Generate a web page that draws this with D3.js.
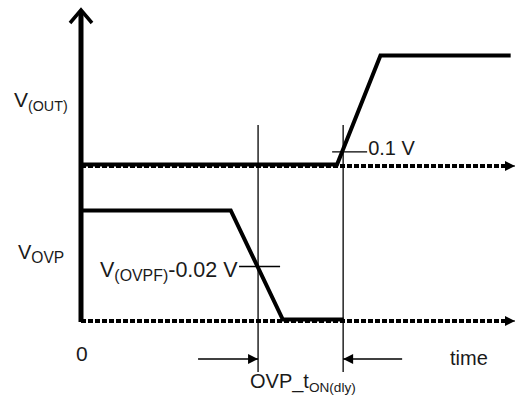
<!DOCTYPE html>
<meta charset="utf-8">
<style>
body { margin: 0; background: #fff; }
text { font-family: "Liberation Sans", Arial, sans-serif; fill: #1a1a1a; }
.wave { fill: none; stroke: #000; stroke-width: 4px; stroke-linejoin: miter; }
.base { stroke: #000; stroke-width: 4px; stroke-dasharray: 5,2; }
.marker { stroke: #000; stroke-width: 1.3px; }
</style>
<svg width="522" height="401"></svg>
<script src="https://cdn.jsdelivr.net/npm/d3@7"></script>
<script>

// waveform break points (time in % of the time axis, level 0 = low, 1 = high)
var outTimes = [0, 59, 69, 99]
var outLevels = [0, 0, 1, 1]
var ovpTimes = [0, 34.5, 46.5, 60.5]
var ovpLevels = [1, 1, 0, 0]

// delay markers and thresholds
var markerTimes = [40.8, 60.4]
var outThreshold = 0.13   // "0.1 V"
var ovpThreshold = 0.5    // "V(OVPF)-0.02 V"

var svg = d3.select("svg")

var x = d3.scaleLinear().domain([0, 100]).range([81, 515])
var yOut = d3.scaleLinear().domain([0, 1]).range([166, 57])
var yOvp = d3.scaleLinear().domain([0, 1]).range([321, 212])

var defs = svg.append("defs")
defs.append("marker")
    .attr("id", "tri")
    .attr("viewBox", "0 0 10 10")
    .attr("refX", 10).attr("refY", 5)
    .attr("markerWidth", 12).attr("markerHeight", 10)
    .attr("markerUnits", "userSpaceOnUse")
    .attr("orient", "auto")
  .append("path")
    .attr("d", "M0,0L10,5L0,10Z")
    .attr("fill", "#000")

// dashed baselines with arrows
;[yOut(0), yOvp(0)].forEach(function(yy) {
  svg.append("line")
    .attr("class", "base")
    .attr("x1", x(0)).attr("x2", x(100) - 8)
    .attr("y1", yy).attr("y2", yy)
  svg.append("line")
    .attr("x1", x(100) - 10).attr("x2", x(100))
    .attr("y1", yy).attr("y2", yy)
    .attr("stroke", "#000").attr("stroke-width", 1)
    .attr("marker-end", "url(#tri)")
})

// vertical axis
svg.append("line")
  .attr("x1", x(0)).attr("x2", x(0))
  .attr("y1", 11).attr("y2", yOvp(0) + 1)
  .attr("stroke", "#000").attr("stroke-width", 5)
svg.append("path")
  .attr("d", "M" + (x(0) - 11) + ",23L" + x(0) + ",10L" + (x(0) + 11) + ",23")
  .attr("fill", "none").attr("stroke", "#000").attr("stroke-width", 3.5)

// waveforms
var line = function(ys) {
  return d3.line().x(function(d) { return x(d[0]) }).y(function(d) { return ys(d[1]) })
}
var waves = svg.append("g").attr("transform", "translate(0,-1.5)")
waves.append("path")
  .attr("class", "wave")
  .attr("d", line(yOut)(d3.zip(outTimes, outLevels)))
waves.append("path")
  .attr("class", "wave")
  .attr("d", line(yOvp)(d3.zip(ovpTimes, ovpLevels)))

// delay marker lines
markerTimes.forEach(function(t) {
  svg.append("line")
    .attr("class", "marker")
    .attr("x1", x(t)).attr("x2", x(t))
    .attr("y1", 125).attr("y2", 372)
})

// threshold ticks
svg.append("line").attr("class", "marker")
  .attr("x1", x(markerTimes[1]) - 11).attr("x2", x(markerTimes[1]) + 24)
  .attr("y1", yOut(outThreshold)).attr("y2", yOut(outThreshold))
svg.append("line").attr("class", "marker")
  .attr("x1", x(markerTimes[0]) - 19).attr("x2", x(markerTimes[0]) + 22)
  .attr("y1", yOvp(ovpThreshold)).attr("y2", yOvp(ovpThreshold))

// delay arrows
svg.append("line").attr("class", "marker")
  .attr("x1", x(markerTimes[0]) - 60).attr("x2", x(markerTimes[0]))
  .attr("y1", 359).attr("y2", 359)
  .attr("marker-end", "url(#tri)")
svg.append("line").attr("class", "marker")
  .attr("x1", x(markerTimes[1]) + 59).attr("x2", x(markerTimes[1]))
  .attr("y1", 359).attr("y2", 359)
  .attr("marker-end", "url(#tri)")

// labels
function label(xx, yy, main, sub, rest, size, subRatio) {
  var t = svg.append("text").attr("x", xx).attr("y", yy).style("font-size", size + "px")
  t.append("tspan").text(main)
  if (sub) t.append("tspan").attr("dy", 4).style("font-size", (size * (subRatio || 0.7)) + "px").text(sub)
  if (rest) t.append("tspan").attr("dy", -4).text(rest)
  return t
}
label(14, 107, "V", "(OUT)", null, 21, 0.68)
label(18, 259, "V", "OVP", null, 20, 0.78)
label(100, 277, "V", "(OVPF)", "-0.02 V", 21.5, 0.74)
label(x(markerTimes[1]) + 25, 155, "0.1 V", null, null, 20)
label(76, 361, "0", null, null, 21)
label(450, 365, "time", null, null, 20)
label(250, 388, "OVP_t", "ON(dly)", null, 20, 0.68)

</script>
